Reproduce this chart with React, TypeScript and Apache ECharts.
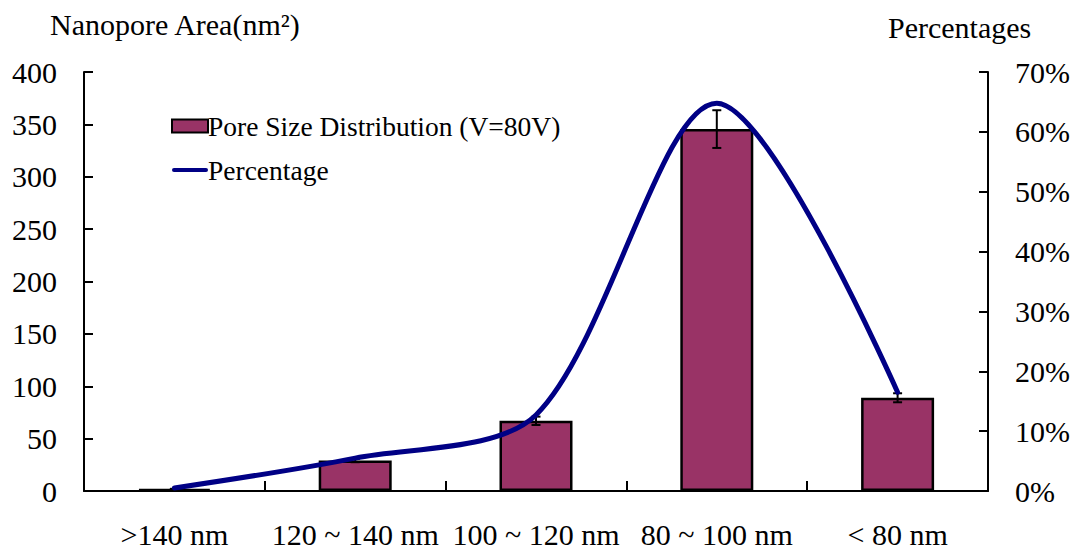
import React, { useEffect, useRef } from "react";
import * as echarts from "echarts";

// Pore size classes and measured values
const categories = [">140 nm", "120 ~ 140 nm", "100 ~ 120 nm", "80 ~ 100 nm", "< 80 nm"];
const poreArea = [2, 29, 67, 345.5, 89];
const poreAreaError = [0, 1.5, 4, 18, 4.3];
const percentages = [0.5, 5.5, 12.7, 64.8, 16.5];
const leftTicks = { min: 0, max: 400, interval: 50 };
const rightTicks = { min: 0, max: 70, interval: 10 };

const FONT = "'Liberation Serif', 'Times New Roman', serif";
const LINE_ICON =
  "path://M0,0M36,13M2,4.5L34,4.5A2,2,0,0,1,34,8.5L2,8.5A2,2,0,0,1,2,4.5Z";

export default function App() {
  const ref = useRef<HTMLDivElement>(null);

  useEffect(() => {
    if (!ref.current) return;
    const chart = echarts.init(ref.current, null, { renderer: "svg" });

    const errorData = categories.map((_, i) => [
      i,
      poreArea[i] - poreAreaError[i],
      poreArea[i] + poreAreaError[i],
    ]);

    const axisLine = { show: true, lineStyle: { color: "#000", width: 2 } };
    const tickStyle = { color: "#000", width: 2 };
    const labelStyle = { color: "#000", fontSize: 30, fontFamily: FONT };

    chart.setOption({
      animation: false,
      backgroundColor: "#fff",
      textStyle: { fontFamily: FONT },
      grid: { left: 84, right: 90, top: 72, bottom: 61 },
      legend: {
        orient: "vertical",
        left: 166,
        top: 107,
        itemWidth: 36,
        itemHeight: 13,
        itemGap: 16,
        textStyle: { fontFamily: FONT, fontSize: 27.5, color: "#000", padding: [0, 0, 0, -5] },
        data: [
          { name: "Pore Size Distribution (V=80V)", icon: "rect" },
          { name: "Percentage", icon: LINE_ICON },
        ],
      },
      graphic: [
        {
          type: "text",
          left: 50,
          top: 9,
          style: { text: "Nanopore Area(nm²)", font: `30px ${FONT}`, fill: "#000" },
        },
        {
          type: "text",
          left: 888,
          top: 12,
          style: { text: "Percentages", font: `30px ${FONT}`, fill: "#000" },
        },
      ],
      xAxis: {
        type: "category",
        data: categories,
        boundaryGap: true,
        axisLine,
        axisTick: { show: true, inside: true, length: 10, alignWithLabel: false, lineStyle: tickStyle },
        axisLabel: { ...labelStyle, margin: 28, interval: 0 },
        splitLine: { show: false },
      },
      yAxis: [
        {
          type: "value",
          ...leftTicks,
          axisLine,
          axisTick: { show: true, inside: true, length: 9, lineStyle: tickStyle },
          axisLabel: { ...labelStyle, margin: 27 },
          splitLine: { show: false },
        },
        {
          type: "value",
          ...rightTicks,
          position: "right",
          axisLine,
          axisTick: { show: true, inside: true, length: 9, lineStyle: tickStyle },
          axisLabel: { ...labelStyle, margin: 27, formatter: "{value}%" },
          splitLine: { show: false },
        },
      ],
      series: [
        {
          name: "Pore Size Distribution (V=80V)",
          type: "bar",
          data: poreArea,
          barWidth: 73,
          itemStyle: { color: "#993366", borderColor: "#000", borderWidth: 2.5 },
          z: 2,
        },
        {
          name: "error",
          type: "custom",
          data: errorData,
          z: 3,
          renderItem: (params: any, api: any) => {
            const i = api.value(0);
            const lo = api.coord([i, api.value(1)]);
            const hi = api.coord([i, api.value(2)]);
            const cap = 4.5;
            const style = { stroke: "#000", lineWidth: 2 };
            return {
              type: "group",
              children: [
                { type: "line", shape: { x1: hi[0], y1: hi[1], x2: lo[0], y2: lo[1] }, style },
                { type: "line", shape: { x1: hi[0] - cap, y1: hi[1], x2: hi[0] + cap, y2: hi[1] }, style },
                { type: "line", shape: { x1: lo[0] - cap, y1: lo[1], x2: lo[0] + cap, y2: lo[1] }, style },
              ],
            };
          },
        },
        {
          name: "Percentage",
          type: "line",
          yAxisIndex: 1,
          data: percentages,
          smooth: 0.3,
          symbol: "none",
          lineStyle: { color: "#000085", width: 5, cap: "round" },
          itemStyle: { color: "#000085" },
          z: 4,
        },
      ],
    });

    return () => chart.dispose();
  }, []);

  return (
    <div
      ref={ref}
      style={{ position: "absolute", left: 0, top: 0, width: 1078, height: 552 }}
    />
  );
}
